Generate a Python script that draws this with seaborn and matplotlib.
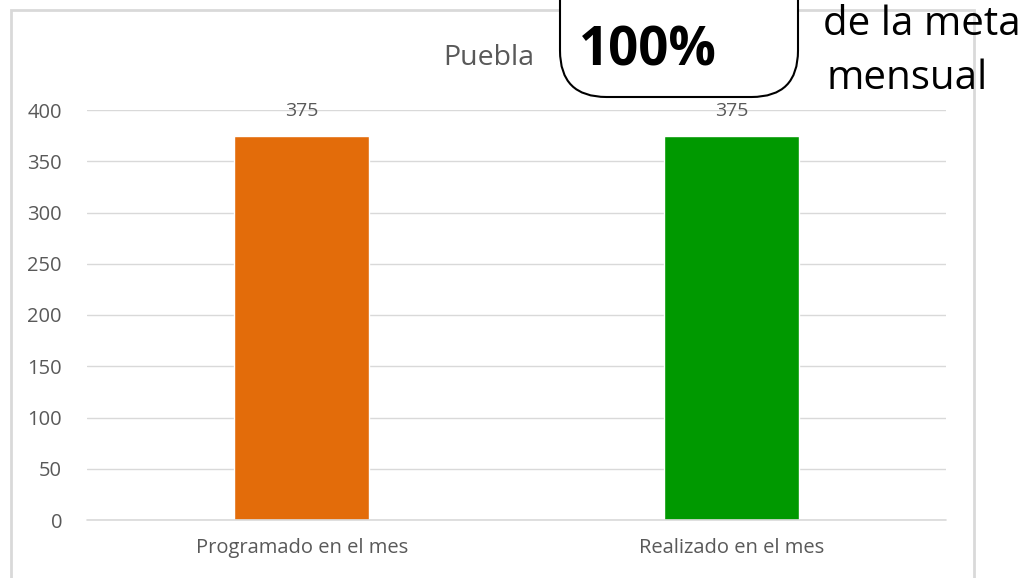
import matplotlib.pyplot as plt
import seaborn as sns
import pandas as pd
from matplotlib.patches import FancyBboxPatch, Rectangle

# Datos
categorias = ["Programado en el mes", "Realizado en el mes"]
valores = [375, 375]
colores = ["#E36C0A", "#009900"]
titulo = "Puebla"
porcentaje = "100%"
nota = ["de la meta", "mensual"]

df = pd.DataFrame({"categoria": categorias, "valor": valores})

sns.set_theme(style="white")
plt.rcParams["font.family"] = ["Open Sans", "DejaVu Sans"]

fig = plt.figure(figsize=(10.31, 5.78), dpi=100)
ax = fig.add_axes([87 / 1031, 58 / 578, (946 - 87) / 1031, (520 - 110) / 578])

# Borde del gráfico
fig.patches.append(Rectangle((11 / 1031, -0.05), (974 - 11) / 1031, (568 + 0.05 * 578) / 578,
                             transform=fig.transFigure, fill=False,
                             edgecolor="#D9D9D9", linewidth=2, zorder=0))

sns.barplot(data=df, x="categoria", y="valor", hue="categoria", palette=colores,
            width=0.314, saturation=1, legend=False, ax=ax, zorder=3)

ax.set_ylim(0, 400)
ax.set_yticks(range(0, 401, 50))
ax.grid(axis="y", color="#D9D9D9", linewidth=1, zorder=0)
ax.axhline(0, color="#D9D9D9", linewidth=1.2, zorder=4, clip_on=False)
ax.set_axisbelow(True)
sns.despine(ax=ax, left=True, bottom=True)
ax.tick_params(length=0, labelsize=14.5, colors="#595959")
ax.tick_params(axis="y", pad=18)
ax.tick_params(axis="x", pad=13)
ax.set_xlabel("")
ax.set_ylabel("")

# Etiquetas de valor
for i, v in enumerate(valores):
    ax.text(i, v + 15, f"{v}", ha="center", va="bottom", fontsize=14, color="#595959")

# Título
fig.text(489 / 1031, 1 - 58 / 578, titulo, ha="center", va="center", fontsize=20.5, color="#595959")

# Cuadro con porcentaje
fig.patches.append(FancyBboxPatch((560 / 1031, 97 / -578 + 1), (798 - 560) / 1031, 0.25,
                                  boxstyle="round,pad=0,rounding_size=0.045",
                                  transform=fig.transFigure, facecolor="white",
                                  edgecolor="black", linewidth=1.5, zorder=5,
                                  mutation_aspect=1031 / 578))
fig.text(648 / 1031, 1 - 52 / 578, porcentaje, ha="center", va="center",
         fontsize=38, fontweight="bold", color="black", zorder=6)

fig.text(823 / 1031, 1 - 35 / 578, nota[0], ha="left", va="baseline", fontsize=29,
         color="black", zorder=6)
fig.text(826 / 1031, 1 - 89 / 578, nota[1], ha="left", va="baseline", fontsize=29,
         color="black", zorder=6)

plt.savefig("out.png", dpi=100)
